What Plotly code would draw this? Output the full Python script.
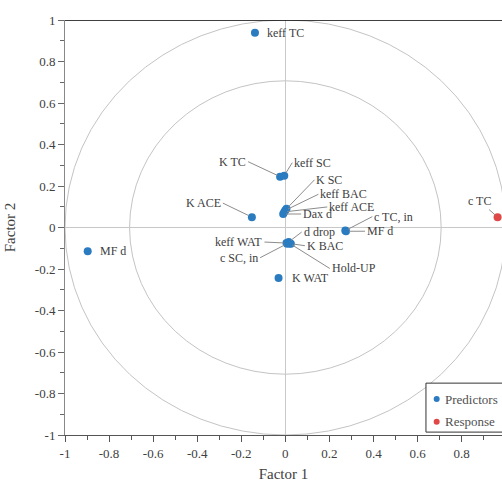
import plotly.graph_objects as go

# ---- data ----
pred_names = ["keff TC", "K TC", "keff SC", "K SC", "keff BAC", "keff ACE", "Dax d",
              "c TC, in", "MF d", "d drop", "K BAC", "keff WAT", "c SC, in", "Hold-UP",
              "K WAT", "K ACE", "MF d"]
pred_f1 = [-0.138, -0.024, -0.005, 0.005, 0.000, -0.005, -0.010,
           0.272, 0.275, 0.015, 0.025, 0.005, 0.008, 0.020,
           -0.031, -0.152, -0.897]
pred_f2 = [0.938, 0.245, 0.250, 0.090, 0.083, 0.075, 0.065,
           -0.015, -0.018, -0.070, -0.078, -0.075, -0.078, -0.077,
           -0.243, 0.050, -0.115]
resp_names = ["c TC"]
resp_f1 = [0.963]
resp_f2 = [0.050]

series_names = ["Predictors", "Response"]
tick_vals = [-1, -0.8, -0.6, -0.4, -0.2, 0, 0.2, 0.4, 0.6, 0.8, 1]
tick_text = ["-1", "-0.8", "-0.6", "-0.4", "-0.2", "0", "0.2", "0.4", "0.6", "0.8", "1"]
circle_radii = [1.0, 0.707]

# ---- label styling (pixel offsets: ax, ay, xanchor, leader line?) ----
label_style = [
    (10, 0, "left", False),     # keff TC
    (-32, -15, "right", True),  # K TC
    (8, -13, "left", True),     # keff SC
    (28, -29, "left", True),    # K SC
    (33, -16, "left", True),    # keff BAC
    (43, -5, "left", True),     # keff ACE
    (18, 0, "left", True),      # Dax d
    (27, -14, "left", True),    # c TC, in
    (19, 0, "left", True),      # MF d
    (13, -10, "left", True),    # d drop
    (14, 2, "left", True),      # K BAC
    (-22, -1, "right", True),   # keff WAT
    (-27, 14, "right", True),   # c SC, in
    (40, 25, "left", True),     # Hold-UP
    (11, 0, "left", False),     # K WAT
    (-29, -14, "right", True),  # K ACE
    (10, 0, "left", False),     # MF d (left)
]
resp_style = [(-18, -16, "center", True)]

FONT = "Liberation Serif"
TXT = "#404040"
BLUE = "#2a7bc0"
RED = "#e04848"
colors = [BLUE, RED]

fig = go.Figure()
fig.add_trace(go.Scatter(x=pred_f1, y=pred_f2, mode="markers", name=series_names[0],
                         marker=dict(color=BLUE, size=8), cliponaxis=False))
fig.add_trace(go.Scatter(x=resp_f1, y=resp_f2, mode="markers", name=series_names[1],
                         marker=dict(color=RED, size=8), cliponaxis=False))

def add_labels(names, xs, ys, styles):
    for n, x, y, (ax, ay, xa, line) in zip(names, xs, ys, styles):
        if line:
            fig.add_annotation(x=x, y=y, text=n, showarrow=True, arrowhead=0,
                               arrowwidth=1, arrowcolor="#8c8c8c", ax=ax, ay=ay,
                               xanchor=xa, yanchor="middle", standoff=3,
                               font=dict(family=FONT, size=12, color=TXT))
        else:
            fig.add_annotation(x=x, y=y, text=n, showarrow=False, xshift=ax,
                               xanchor=xa, yanchor="middle",
                               font=dict(family=FONT, size=12, color=TXT))

add_labels(pred_names, pred_f1, pred_f2, label_style)
add_labels(resp_names, resp_f1, resp_f2, resp_style)

for r in circle_radii:
    fig.add_shape(type="circle", xref="x", yref="y", x0=-r, y0=-r, x1=r, y1=r,
                  line=dict(color="#c4c4c4", width=1), layer="below")

# top border
fig.add_shape(type="line", xref="paper", yref="y", x0=0, x1=1, y0=1, y1=1,
              line=dict(color="black", width=1.5))

# legend box (extends past the right edge, as in the reference)
fig.add_shape(type="rect", xref="paper", yref="paper", x0=0.826, x1=1.05,
              y0=0.007, y1=0.125, line=dict(color="#333333", width=1),
              fillcolor="white", layer="above")
leg_y = [0.0867, 0.032]
for name, col, ly in zip(series_names, colors, leg_y):
    fig.add_shape(type="circle", xref="paper", yref="paper", xsizemode="pixel",
                  ysizemode="pixel", xanchor=0.8505, yanchor=ly,
                  x0=-3, x1=3, y0=-3, y1=3, fillcolor=col, line=dict(width=0),
                  layer="above")
    fig.add_annotation(xref="paper", yref="paper", x=0.864, y=ly, text=name,
                       showarrow=False, xanchor="left", yanchor="middle",
                       font=dict(family=FONT, size=13, color="#505050"))

axis_common = dict(tickvals=tick_vals, ticktext=tick_text, ticks="outside",
                   ticklen=6, tickwidth=1, showgrid=False, zeroline=True,
                   zerolinecolor="#c8c8c8", zerolinewidth=1, showline=True,
                   automargin=False,
                   tickfont=dict(family=FONT, size=13, color=TXT),
                   minor=dict(ticks="outside", dtick=0.1, ticklen=4, tickwidth=1))

fig.update_xaxes(range=[-1, 0.983], linecolor="#555555", tickcolor="#555555",
                 title=dict(text="Factor 1", font=dict(family=FONT, size=15, color=TXT)),
                 **axis_common)
fig.update_yaxes(range=[-1, 1], linecolor="#888888", tickcolor="#666666",
                 title=dict(text="Factor 2", font=dict(family=FONT, size=15, color=TXT)),
                 **axis_common)
fig.update_xaxes(minor_tickcolor="#555555")
fig.update_yaxes(minor_tickcolor="#666666")

fig.update_layout(
    width=502, height=482,
    margin=dict(l=65, r=0, t=20, b=47, autoexpand=False),
    plot_bgcolor="white", paper_bgcolor="white",
    showlegend=False,
)

fig.write_html("out.html")
